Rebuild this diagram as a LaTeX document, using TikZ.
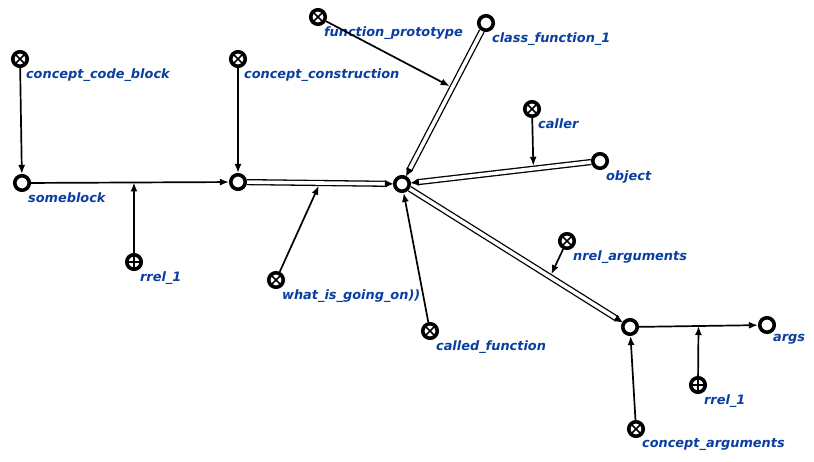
\documentclass[tikz,border=0pt]{standalone}
\usepackage{fontspec}
\newfontfamily\lblfont{DejaVu Sans Bold Oblique}
\usetikzlibrary{arrows.meta,decorations.markings}
\definecolor{lblblue}{RGB}{10,62,160}
\tikzset{
  scnode/.style={circle,draw,fill=white,line width=3.6pt,minimum size=14.5pt,inner sep=0pt},
  scclass/.style={scnode,path picture={
      \draw[line width=1.6pt] (path picture bounding box.north west) -- (path picture bounding box.south east)
        (path picture bounding box.north east) -- (path picture bounding box.south west);}},
  scrole/.style={scnode,path picture={
      \draw[line width=1.6pt] (path picture bounding box.north) -- (path picture bounding box.south)
        (path picture bounding box.east) -- (path picture bounding box.west);}},
  lbl/.style={font=\lblfont\fontsize{12.9}{15}\selectfont,text=lblblue,inner sep=1pt,xshift=-1.5pt,yshift=-2pt},
  arc/.style={line width=1.7pt,-{Latex[length=9pt,width=7pt]}},
  dblarc/.style={double,double distance=3.6pt,line width=1.3pt,shorten >=6pt,
    postaction={decorate},
    decoration={markings,mark=at position 1 with {\fill (0,0) -- (-8pt,3.5pt) -- (-8pt,-3.5pt) -- cycle;}}},
  every label/.style={lbl},
  label distance=0pt
}
\begin{document}
\begin{tikzpicture}[x=1pt,y=-1pt]
  \useasboundingbox (0,0) rectangle (814,461);
  \node[scclass,label={below right:concept\_code\_block}] (ccb) at (20,59) {};
  \node[scnode,label={below right:someblock}] (sb) at (22,183) {};
  \node[scrole,label={below right:rrel\_1}] (r1) at (134,262) {};
  \node[scclass,label={below right:concept\_construction}] (ccons) at (238,59) {};
  \node[scnode] (cons) at (238,182) {};
  \node[scclass,label={below right:what\_is\_going\_on))}] (wig) at (276,280) {};
  \node[scnode] (c) at (402,184) {};
  \node[scclass,label={below right:function\_prototype}] (fp) at (318,17) {};
  \node[scnode,label={below right:class\_function\_1}] (cf1) at (486,23) {};
  \node[scclass,label={below right:caller}] (cal) at (532,109) {};
  \node[scnode,label={below right:object}] (obj) at (600,161) {};
  \node[scclass,label={below right:called\_function}] (cfn) at (430,331) {};
  \node[scclass,label={below right:nrel\_arguments}] (nargs) at (567,241) {};
  \node[scnode] (an) at (630,327) {};
  \node[scnode,label={below right:args}] (args) at (767,325) {};
  \node[scrole,label={below right:rrel\_1}] (r2) at (698,385) {};
  \node[scclass,label={below right:concept\_arguments}] (cargs) at (636,429) {};
  % arcs between nodes
  \begin{scope}
    \draw[dblarc] (cons) -- coordinate[pos=0.5] (m2) (c);
    \draw[dblarc] (cf1) -- coordinate[pos=0.39] (m3) (c);
    \draw[dblarc] (obj) -- coordinate[pos=0.32] (m4) (c);
    \draw[dblarc] (c) -- coordinate[pos=0.66] (m5) (an);
    \draw[arc] (ccb) -- (sb);
    \draw[arc] (sb) -- coordinate[pos=0.52] (m1) (cons);
    \draw[arc] (r1) -- (m1);
    \draw[arc] (ccons) -- (cons);
    \draw[arc,shorten >=3pt] (wig) -- (m2);
    \draw[arc,shorten >=3pt] (fp) -- (m3);
    \draw[arc,shorten >=3pt] (cal) -- (m4);
    \draw[arc] (cfn) -- (c);
    \draw[arc,shorten >=3pt] (nargs) -- (m5);
    \draw[arc] (an) -- coordinate[pos=0.5] (m6) (args);
    \draw[arc] (r2) -- (m6);
    \draw[arc] (cargs) -- (an);
  \end{scope}
\end{tikzpicture}
\end{document}
